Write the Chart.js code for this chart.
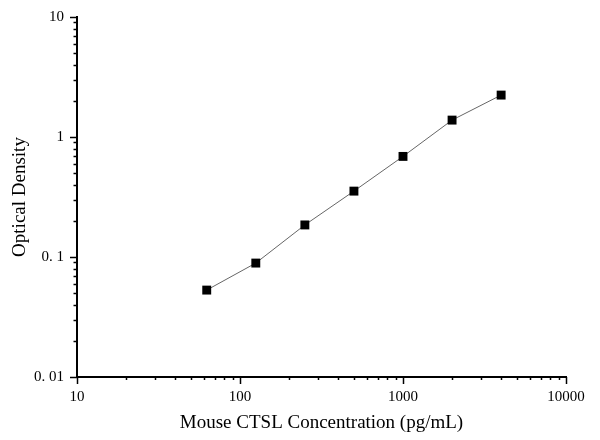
<!DOCTYPE html>
<html>
<head>
<meta charset="utf-8">
<title>Mouse CTSL standard curve</title>
<script src="https://cdn.jsdelivr.net/npm/chart.js@4.4.1/dist/chart.umd.min.js"></script>
<style>
    html, body { margin: 0; padding: 0; background: #fff; }
    #wrap { width: 600px; height: 440px; }
</style>
</head>
<body>
<div id="wrap"><canvas id="curve" width="600" height="440"></canvas></div>
<script>
// Standard curve readings
const concentrations = [62.5, 125, 250, 500, 1000, 2000, 4000];
const opticalDensity = [0.053, 0.089, 0.185, 0.354, 0.689, 1.383, 2.235];

// Axis ticks
const xTickValues = [10, 100, 1000, 10000];
const xTickLabels = ['10', '100', '1000', '10000'];
const yTickValues = [0.01, 0.1, 1, 10];
const yTickLabels = ['0. 01', '0. 1', '1', '10'];

const serif = "'Liberation Serif', 'Times New Roman', serif";

// Log-axis tick marks: long for decades, short for 2..9
const logTicks = {
    id: 'logTicks',
    afterDraw(chart) {
        const { ctx, chartArea } = chart;
        const xs = chart.scales.x;
        const ys = chart.scales.y;
        ctx.save();
        ctx.strokeStyle = '#000';
        ctx.lineWidth = 1.5;

        for (let e = Math.log10(xs.min); e < Math.log10(xs.max) + 0.5; e++) {
            for (let m = 1; m <= 9; m++) {
                const v = m * Math.pow(10, e);
                if (v > xs.max * 1.0001) break;
                const px = Math.round(xs.getPixelForValue(v)) + 0.5;
                const len = m === 1 ? 7 : 3;
                ctx.beginPath();
                ctx.moveTo(px, chartArea.bottom);
                ctx.lineTo(px, chartArea.bottom + len);
                ctx.stroke();
            }
        }

        for (let e = Math.log10(ys.min); e < Math.log10(ys.max) + 0.5; e++) {
            for (let m = 1; m <= 9; m++) {
                const v = m * Math.pow(10, e);
                if (v > ys.max * 1.0001) break;
                const py = Math.round(ys.getPixelForValue(v)) + 0.5;
                const len = m === 1 ? 7 : 3.5;
                ctx.beginPath();
                ctx.moveTo(chartArea.left, py);
                ctx.lineTo(chartArea.left - len, py);
                ctx.stroke();
            }
        }
        ctx.restore();
    }
};

new Chart(document.getElementById('curve'), {
    type: 'scatter',
    data: {
        datasets: [{
            data: concentrations.map((c, i) => ({ x: c, y: opticalDensity[i] })),
            showLine: true,
            tension: 0,
            borderColor: '#666',
            borderWidth: 1,
            pointStyle: 'rect',
            pointRadius: 6.3,
            pointBackgroundColor: '#000',
            pointBorderColor: '#000',
            pointBorderWidth: 0
        }]
    },
    options: {
        responsive: false,
        animation: false,
        devicePixelRatio: 1,
        layout: { padding: { left: 0, top: 17, right: 34, bottom: 0 } },
        plugins: {
            legend: { display: false },
            tooltip: { enabled: false }
        },
        scales: {
            x: {
                type: 'logarithmic',
                min: 10,
                max: 10000,
                afterFit: s => { s.height = 63; s.paddingLeft = 0; s.paddingRight = 0; },
                afterBuildTicks: s => { s.ticks = xTickValues.map(v => ({ value: v })); },
                grid: { drawOnChartArea: false, drawTicks: false },
                border: { display: true, color: '#000', width: 2 },
                ticks: {
                    autoSkip: false,
                    maxRotation: 0,
                    padding: 11,
                    color: '#000',
                    font: { family: serif, size: 15 },
                    callback: v => xTickLabels[xTickValues.indexOf(v)]
                },
                title: {
                    display: true,
                    text: 'Mouse CTSL Concentration (pg/mL)',
                    color: '#000',
                    font: { family: serif, size: 19 },
                    padding: { top: 0, bottom: 6 }
                }
            },
            y: {
                type: 'logarithmic',
                min: 0.01,
                max: 10,
                afterFit: s => { s.width = 77; s.paddingTop = 0; s.paddingBottom = 0; },
                afterBuildTicks: s => { s.ticks = yTickValues.map(v => ({ value: v })); },
                grid: { drawOnChartArea: false, drawTicks: false },
                border: { display: true, color: '#000', width: 2 },
                ticks: {
                    autoSkip: false,
                    padding: 13,
                    color: '#000',
                    font: { family: serif, size: 15 },
                    callback: v => yTickLabels[yTickValues.indexOf(v)]
                },
                title: {
                    display: true,
                    text: 'Optical Density',
                    color: '#000',
                    font: { family: serif, size: 19 },
                    padding: { top: 9, bottom: 0 }
                }
            }
        }
    },
    plugins: [logTicks]
});
</script>
</body>
</html>
